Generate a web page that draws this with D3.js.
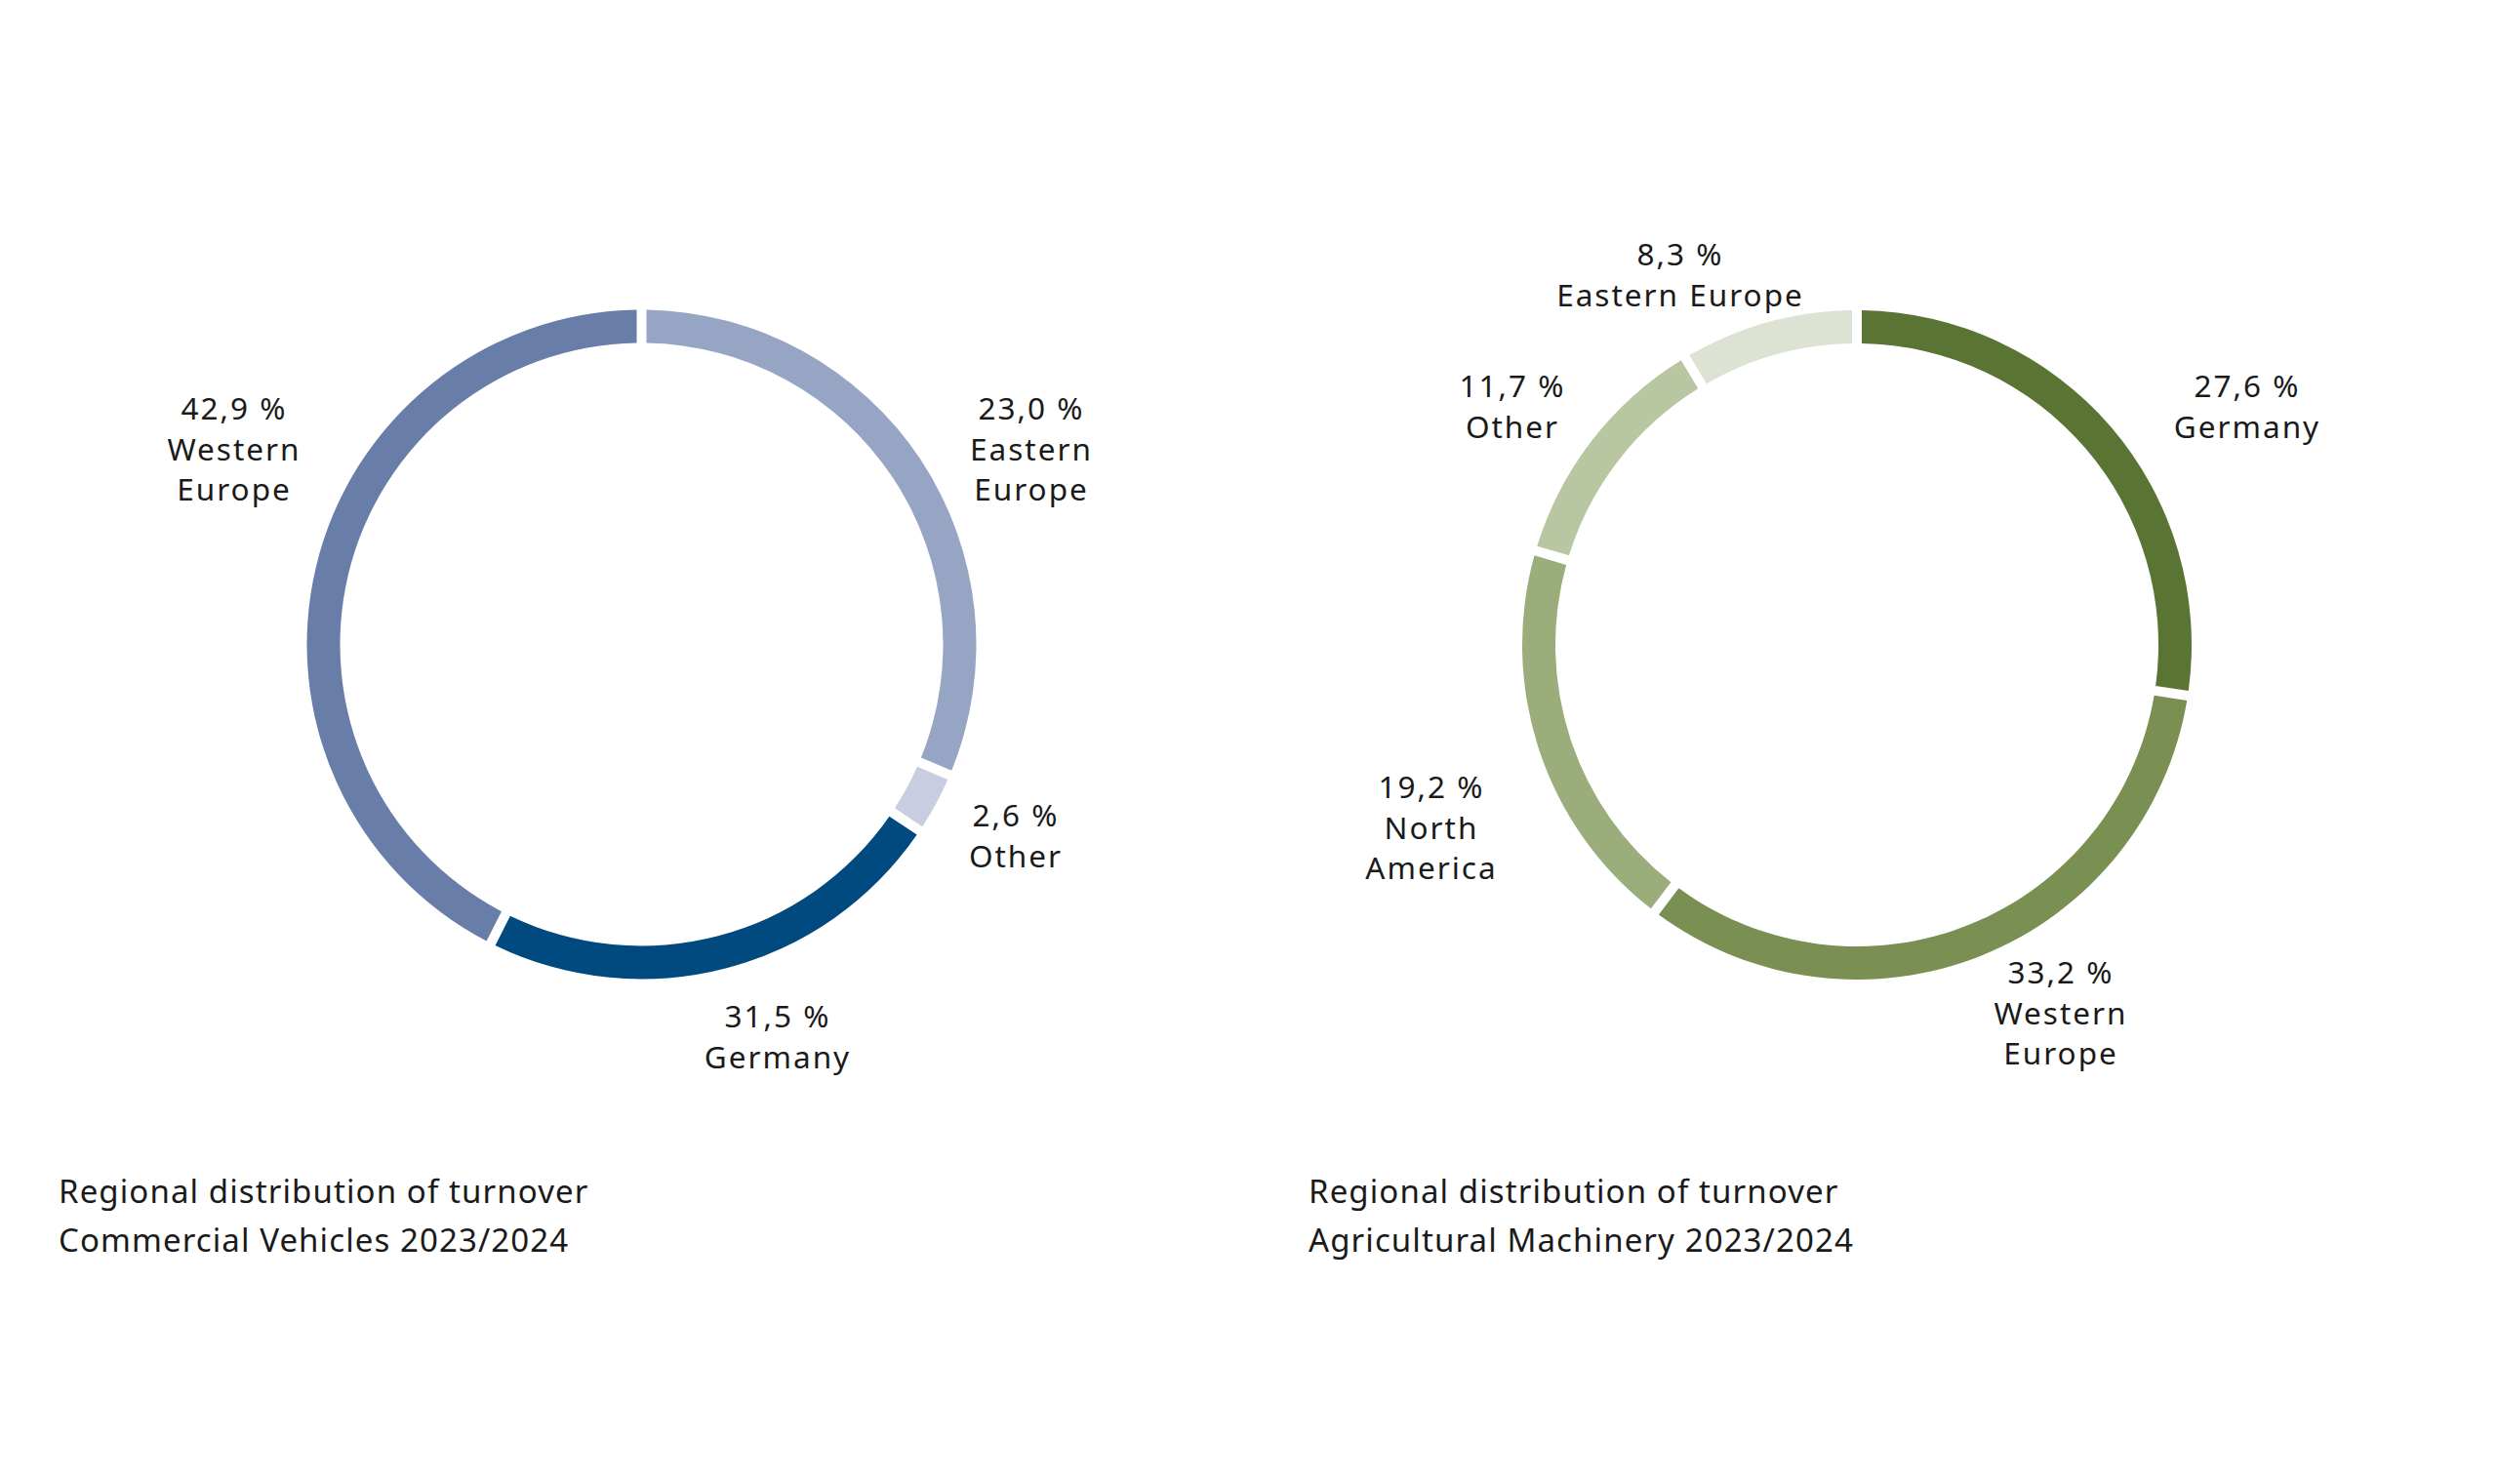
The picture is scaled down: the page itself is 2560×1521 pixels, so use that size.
<!DOCTYPE html>
<html lang="en">
<head>
  <meta charset="utf-8" />
  <title>Regional distribution of turnover</title>
  <script src="https://d3js.org/d3.v7.min.js"></script>
  <style>
    body {
      margin: 0;
      padding: 0;
      background: #ffffff;
      font-family: "Noto Sans", "Open Sans", Arial, sans-serif;
    }
    .label text {
      font-size: 31.5px;
      letter-spacing: 2px;
      fill: #1a1a1a;
      text-anchor: middle;
    }
    .caption text {
      font-size: 33px;
      letter-spacing: 1.1px;
      fill: #1a1a1a;
    }
  </style>
</head>
<body>
<div id="chart"></div>

<script>
// ---- data (clockwise from 12 o'clock) ----

// Commercial Vehicles
// note: in the source picture the arc of "Eastern Europe" is drawn with 31,5
// and the arc of "Germany" with 23,0 -> arc sizes kept as drawn, labels as printed
const cvRegions   = ["Eastern Europe", "Other", "Germany", "Western Europe"];
const cvArcValues = [31.5, 2.6, 23.0, 42.9];
const cvPctLabels = ["23,0 %", "2,6 %", "31,5 %", "42,9 %"];
const cvNameLines = [["Eastern", "Europe"], ["Other"], ["Germany"], ["Western", "Europe"]];
const cvColors    = ["#97a5c5", "#c8cde2", "#004a7f", "#687ea8"];

// Agricultural Machinery
const amRegions   = ["Germany", "Western Europe", "North America", "Other", "Eastern Europe"];
const amArcValues = [27.6, 33.2, 19.2, 11.7, 8.3];
const amPctLabels = ["27,6 %", "33,2 %", "19,2 %", "11,7 %", "8,3 %"];
const amNameLines = [["Germany"], ["Western", "Europe"], ["North", "America"], ["Other"], ["Eastern Europe"]];
const amColors    = ["#5a7434", "#7a8f52", "#9aad7b", "#b9c6a2", "#dde3d2"];

const captionLines = [
  ["Regional distribution of turnover", "Commercial Vehicles 2023/2024"],
  ["Regional distribution of turnover", "Agricultural Machinery 2023/2024"]
];

// ---- layout ----
const W = 2560, H = 1521;
const outerR = 343, innerR = 309, gap = 10, lineH = 41.5;

const svg = d3.select("#chart")
  .append("svg")
  .attr("width", W)
  .attr("height", H);

// label anchors (x centre, first baseline), hand placed like the original
const charts = [
  {
    cx: 657.5, cy: 660.5,
    values: cvArcValues, colors: cvColors, pct: cvPctLabels, names: cvNameLines,
    anchors: [[1057, 430], [1041, 847], [797, 1053], [240, 430]],
    caption: captionLines[0], capX: 60
  },
  {
    cx: 1903, cy: 661,
    values: amArcValues, colors: amColors, pct: amPctLabels, names: amNameLines,
    anchors: [[2303, 407], [2112, 1008], [1467, 818], [1550, 407], [1722, 272]],
    caption: captionLines[1], capX: 1341
  }
];

const pie = d3.pie().sort(null).value(d => d).padAngle(gap / outerR);
const arc = d3.arc().innerRadius(innerR).outerRadius(outerR).padRadius(outerR);

charts.forEach(c => {
  const g = svg.append("g").attr("transform", `translate(${c.cx},${c.cy})`);

  g.selectAll("path")
    .data(pie(c.values))
    .enter()
    .append("path")
      .attr("d", arc)
      .attr("fill", (d, i) => c.colors[i]);

  const labels = svg.append("g").attr("class", "label");
  c.pct.forEach((p, i) => {
    const [x, y] = c.anchors[i];
    const t = labels.append("text").attr("x", x).attr("y", y);
    [p].concat(c.names[i]).forEach((line, j) => {
      t.append("tspan")
        .attr("x", x)
        .attr("y", y + j * lineH)
        .text(line);
    });
  });

  const cap = svg.append("g").attr("class", "caption");
  c.caption.forEach((line, j) => {
    cap.append("text")
      .attr("x", c.capX)
      .attr("y", 1233 + j * 50)
      .text(line);
  });
});
</script>
</body>
</html>
